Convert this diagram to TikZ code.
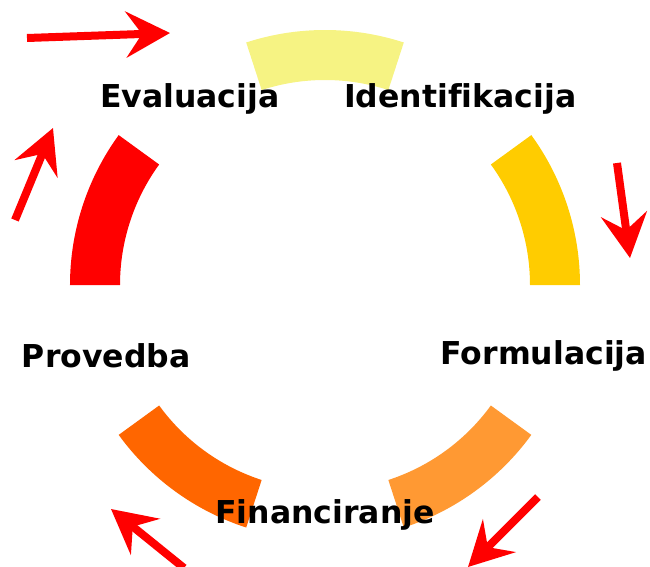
\documentclass[tikz,border=0pt]{standalone}
\usepackage{fontspec}
\setmainfont{DejaVu Sans}[Ligatures=NoCommon]
\usepackage{tikz}
\usetikzlibrary{arrows.meta, positioning, calc}

\definecolor{stageyellow}{HTML}{F6F383}
\definecolor{stagegold}{HTML}{FFCC00}
\definecolor{stagelightorange}{HTML}{FF9933}
\definecolor{stageorange}{HTML}{FF6600}
\definecolor{stagered}{HTML}{FF0000}

\tikzset{
	stagelabel/.style={inner sep=0pt, font=\bfseries\fontsize{31.5}{36}\selectfont},
	cyclearrow/.style={draw=stagered, line width=8pt, -{Stealth[length=44pt, width=46pt, inset=16pt]}}
}

\begin{document}
\begin{tikzpicture}[x=1pt, y=1pt]
	\useasboundingbox (-325,-281) rectangle (325,285);

	% Draw the ring segments
	\foreach \a/\c in {0/stagegold, 72/stageyellow, 144/stagered, 216/stageorange, 288/stagelightorange}
	\fill[\c] (\a:255) arc[start angle=\a, end angle=\a+36, radius=255pt] -- (\a+36:205) arc[start angle=\a+36, end angle=\a, radius=205pt] -- cycle;

	% Draw the labels in the gaps
	\node[stagelabel] (ident) at (54:230) {Identifikacija};
	\node[stagelabel] (formul) at (342:230) {Formulacija};
	\node[stagelabel] (financ) at (270:230) {Financiranje};
	\node[stagelabel] (proved) at (198:230) {Provedba};
	\node[stagelabel] (evalu) at (126:230) {Evaluacija};

	% Define the coordinates for the outer arrows
	\coordinate (topTail) at (-298,247);
	\coordinate (topTip) at (-155,252);
	\coordinate (rightTail) at (292,122);
	\coordinate (rightTip) at (305,27);
	\coordinate (lowRightTail) at (213,-212);
	\coordinate (lowRightTip) at (143,-282);
	\coordinate (lowLeftTail) at (-141,-283);
	\coordinate (lowLeftTip) at (-214,-224);
	\coordinate (leftTail) at (-310,65);
	\coordinate (leftTip) at (-272,157);

	% Draw the outer arrows
	\draw[cyclearrow] (topTail) -- (topTip);
	\draw[cyclearrow] (rightTail) -- (rightTip);
	\draw[cyclearrow] (lowRightTail) -- (lowRightTip);
	\draw[cyclearrow] (lowLeftTail) -- (lowLeftTip);
	\draw[cyclearrow] (leftTail) -- (leftTip);
\end{tikzpicture}
\end{document}
